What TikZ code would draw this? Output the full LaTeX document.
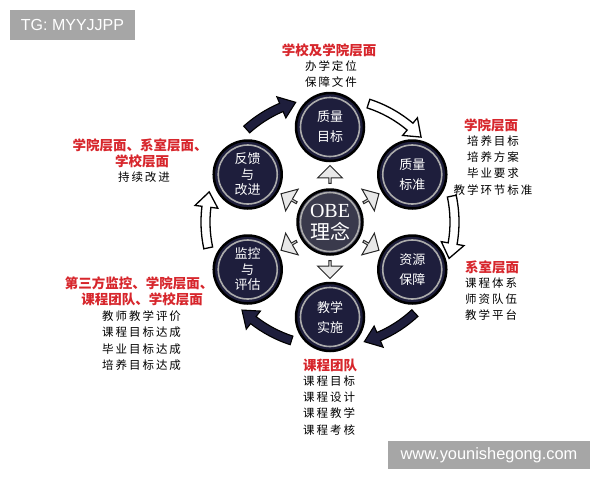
\documentclass[tikz,border=0pt]{standalone}
\usepackage{fontspec}
\setmainfont{Liberation Serif}
\newfontfamily\cjk{Noto Sans CJK SC}
\newfontfamily\cjks[LetterSpace=17]{Noto Sans CJK SC}
\newfontfamily\wmsans{Liberation Sans}
\usetikzlibrary{shapes.arrows}
\definecolor{navy}{HTML}{1E1E3C}
\definecolor{corefill}{HTML}{3A3A4C}
\definecolor{lbl}{HTML}{D7262C}
\definecolor{wm}{HTML}{A6A6A6}
\newcommand\ringarrow[3]{%
  \pgfmathsetmacro\rtip{#2-7}%
  \path[#3] (#1:120) arc[start angle=#1, end angle=#2, radius=120]
    -- (#2:113) -- (\rtip:124.5) -- (#2:136) -- (#2:129)
    arc[start angle=#2, end angle=#1, radius=129] -- cycle;}
\begin{document}
\begin{tikzpicture}[x=1pt,y=-1pt,
  orb/.style={circle, minimum size=68pt, inner sep=0pt, fill=navy, draw=black,
    line width=2.5pt, text=white, align=center,
    font=\cjk\fontsize{13}{20}\selectfont,
    path picture={\draw[gray!65, line width=1.6pt] (path picture bounding box.center) circle (29.5pt);}},
  orbthree/.style={orb, font=\cjk\fontsize{13}{15.5}\selectfont},
  core/.style={orb, minimum size=65pt, fill=corefill, font=\fontsize{20}{22}\selectfont},
  inarrow/.style={single arrow, draw=gray!30!black, fill=gray!18, line width=1pt,
    minimum width=25pt, minimum height=18pt, single arrow head extend=5.5pt, inner sep=0pt},
  lightarr/.style={fill=white, draw=black, line width=1.3pt},
  darkarr/.style={fill=navy, draw=black, line width=1.1pt},
  redlbl/.style={text=lbl, font=\cjk\bfseries\fontsize{13.5}{16}\selectfont, inner sep=0pt},
  blklbl/.style={text=black, font=\cjks\fontsize{11.5}{14}\selectfont, inner sep=0pt},
  wmbox/.style={fill=wm, text=white, font=\wmsans\fontsize{16}{18}\selectfont, inner sep=0pt}
]
\useasboundingbox (0,0) rectangle (600,480);
\fill[white] (0,0) rectangle (600,480);

\begin{scope}[shift={(330,222)}, yscale=-1]
  % ring arrows
  \ringarrow{72}{50}{lightarr}
  \ringarrow{12}{-10}{lightarr}
  \ringarrow{-47}{-67}{darkarr}
  \ringarrow{-108}{-128}{darkarr}
  \ringarrow{-168}{-187}{lightarr}
  \ringarrow{132}{113}{darkarr}
  % circles
  \node[core] (obe) at (0,0) {OBE\\{\cjk 理念}};
  \node[orb] (zlmb) at (90:95) {质量\\目标};
  \node[orb] (zlbz) at (30:95) {质量\\标准};
  \node[orb] (zybz) at (-30:95) {资源\\保障};
  \node[orb] (jxss) at (-90:95) {教学\\实施};
  \node[orbthree] (jkpg) at (-150:95) {监控\\与\\评估};
  \node[orbthree] (fkgj) at (150:95) {反馈\\与\\改进};
\end{scope}

% inner arrows (outer coordinate system: visual angle a = polar -a)
\foreach \a/\n in {90/s1,30/s2,-30/s3,-90/s4,-150/s5,150/s6}
  \node[inarrow, rotate=\a] (\n) at ([shift={(-\a:47)}]obe.center) {};

% labels top
\node[redlbl] (t0) at (329,50) {学校及学院层面};
\node[blklbl] (t1) at (331,66) {办学定位};
\node[blklbl] (t2) at (331,82) {保障文件};
% right upper
\node[redlbl] (r0) at (491,125) {学院层面};
\node[blklbl] (r1) at (493,141) {培养目标};
\node[blklbl] (r2) at (493,157) {培养方案};
\node[blklbl] (r3) at (493,173) {毕业要求};
\node[blklbl] (r4) at (493,190) {教学环节标准};
% right lower
\node[redlbl, anchor=west] (q0) at (465,267) {系室层面};
\node[blklbl, anchor=west] (q1) at (465,283) {课程体系};
\node[blklbl, anchor=west] (q2) at (465,299) {师资队伍};
\node[blklbl, anchor=west] (q3) at (465,315) {教学平台};
% bottom
\node[redlbl, anchor=west] (b0) at (303,365) {课程团队};
\node[blklbl, anchor=west] (b1) at (303,381) {课程目标};
\node[blklbl, anchor=west] (b2) at (303,397) {课程设计};
\node[blklbl, anchor=west] (b3) at (303,413) {课程教学};
\node[blklbl, anchor=west] (b4) at (303,430) {课程考核};
% left upper
\node[redlbl] (l0) at (140,145) {学院层面、系室层面、};
\node[redlbl] (l1) at (142,161) {学校层面};
\node[blklbl] (l2) at (144,177) {持续改进};
% left lower
\node[redlbl] (m0) at (139,283) {第三方监控、学院层面、};
\node[redlbl] (m1) at (142,299) {课程团队、学校层面};
\node[blklbl, anchor=west] (m2) at (102,316) {教师教学评价};
\node[blklbl, anchor=west] (m3) at (102,332) {课程目标达成};
\node[blklbl, anchor=west] (m4) at (102,349) {毕业目标达成};
\node[blklbl, anchor=west] (m5) at (102,365) {培养目标达成};

% watermark boxes
\node[wmbox, minimum width=125pt, minimum height=30pt] (tg) at (72.5,25) {TG: MYYJJPP};
\node[wmbox, minimum width=202pt, minimum height=28pt, font=\wmsans\fontsize{16.4}{18}\selectfont] (www) at (489,455) {www.younishegong.com};
\end{tikzpicture}
\end{document}
